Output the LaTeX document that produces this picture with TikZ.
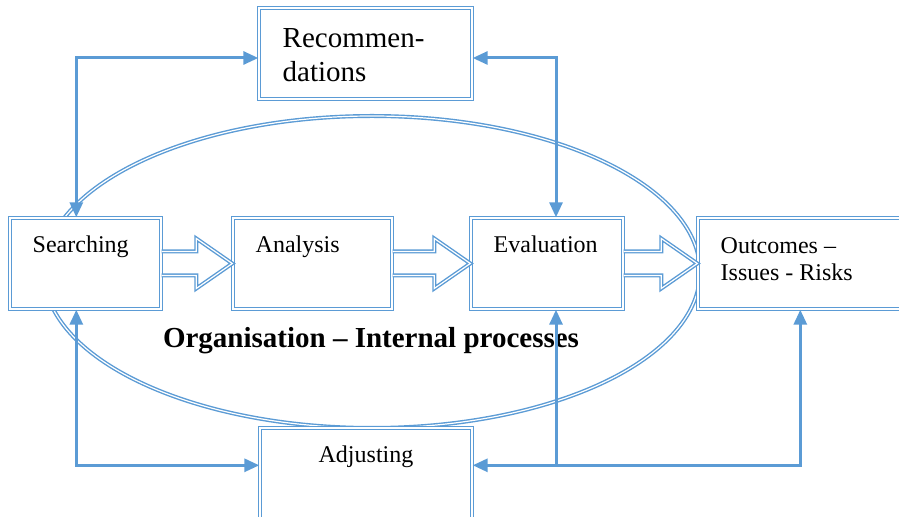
\documentclass[tikz,border=0pt]{standalone}
\usepackage{fontspec}
\setmainfont{Liberation Serif}
\usetikzlibrary{calc,arrows.meta}
\definecolor{boxblue}{HTML}{5B9BD5}

\begin{document}
\begin{tikzpicture}
[
    x=0.5pt, y=-0.5pt,
    box/.style={draw=boxblue, double=white, double distance=0.6pt, line width=0.7pt,
                fill=white, inner sep=0pt, minimum height=45.5pt},
    ring/.style={draw=boxblue, double=white, double distance=0.6pt, line width=0.7pt},
    blockarr/.style={draw=boxblue, double=white, double distance=0.6pt, line width=0.7pt, line join=miter},
    link/.style={draw=boxblue, line width=1.5pt, {Triangle[length=7.5pt,width=6.5pt]}-{Triangle[length=7.5pt,width=6.5pt]}},
    uplink/.style={draw=boxblue, line width=1.5pt, -{Triangle[length=7.5pt,width=6.5pt]}},
    boxtext/.style={anchor=base west, align=left, inner sep=0pt, font=\fontsize{12}{13.5}\selectfont},
]
\useasboundingbox (0,0) rectangle (899,517);

\draw[ring] (372,272) ellipse [x radius=328, y radius=156];

\node[box, minimum width=75.5pt] (search) at (85.5,263.5) {};
\node[box, minimum width=79.5pt] (analysis) at (312.5,263.5) {};
\node[box, minimum width=76pt] (eval) at (547,263.5) {};
\node[box, minimum width=108.5pt] (outc) at (806.5,263.5) {};
\node[box, minimum width=106.5pt] (rec) at (365.5,53.5) {};
\node[box, minimum width=106pt, minimum height=56pt] (adjust) at (366,484) {};

% two-line texts sit on the baseline of their last line
\node[boxtext] (search-t) at ($(search.north west)+(23,35)$) {Searching};
\node[boxtext] (analysis-t) at ($(analysis.north west)+(23,35)$) {Analysis};
\node[boxtext] (eval-t) at ($(eval.north west)+(23,35)$) {Evaluation};
\node[boxtext] (outc-t) at ($(outc.north west)+(23,63)$) {Outcomes \textendash\\Issues - Risks};
\node[boxtext, font=\fontsize{14.5}{17}\selectfont] (rec-t) at ($(rec.north west)+(24,74)$) {Recommen-\\dations};
\node[boxtext, anchor=base] (adjust-t) at ($(adjust.north)+(0,35)$) {Adjusting};

\node[anchor=base, inner sep=0pt, font=\bfseries\fontsize{14.5}{17}\selectfont] (org) at (371,348)
    {Organisation \textendash\ Internal processes};

\foreach \a/\b in {search/analysis, analysis/eval, eval/outc}
    \draw[blockarr] ($(\a.east)+(0,-12)$) -- ($(\b.west)+(-36,-12)$) -- ++(0,-13) -- (\b.west)
        -- ++(-36,25) -- ++(0,-13) -- ($(\a.east)+(0,12)$);

\coordinate (search-n) at ($(search.north west)+(67,0)$);
\coordinate (search-s) at ($(search.south west)+(67,0)$);
\coordinate (eval-n) at ($(eval.north)+(9,0)$);
\coordinate (eval-s) at ($(eval.south)+(9,0)$);
\coordinate (outc-s) at ($(outc.south west)+(103,0)$);
\coordinate (rec-w) at ($(rec.west)+(0,4.5)$);
\coordinate (rec-e) at ($(rec.east)+(0,4.5)$);
\coordinate (adjust-w) at ($(adjust.north west)+(0,38)$);
\coordinate (adjust-e) at ($(adjust.north east)+(0,38)$);

\draw[link] (search-n) |- (rec-w);
\draw[link] (rec-e) -| (eval-n);
\draw[link] (search-s) |- (adjust-w);
\draw[link] (outc-s) |- (adjust-e);
\draw[uplink] (adjust-e -| eval-s) -- (eval-s);
\end{tikzpicture}
\end{document}
